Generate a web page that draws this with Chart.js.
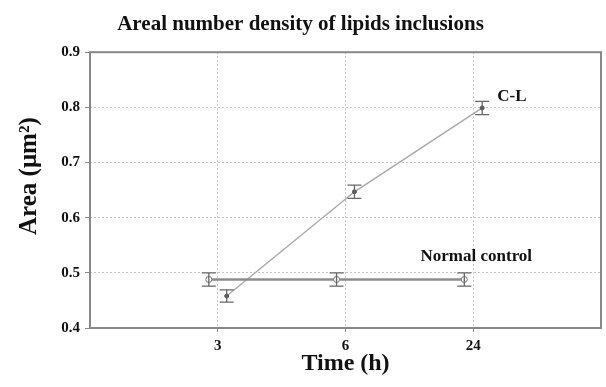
<!DOCTYPE html>
<html>
<head>
<meta charset="utf-8">
<script src="https://cdn.jsdelivr.net/npm/chart.js@4/dist/chart.umd.min.js"></script>
<style>
  body { margin: 0; background: #fff; }
  #wrap { width: 606px; height: 387px; }
</style>
</head>
<body>
<div id="wrap"><canvas id="areaChart" width="606" height="387"></canvas></div>
<script>
// values
var timeLabels = ['3', '6', '24'];
var normalMean = [0.488, 0.488, 0.488];
var normalErr = [0.012, 0.012, 0.012];
var clMean = [0.458, 0.647, 0.799];
var clErr = [0.011, 0.012, 0.012];
var yTicks = [0.4, 0.5, 0.6, 0.7, 0.8, 0.9];

var FONT = '"Liberation Serif", "Times New Roman", serif';
var SHIFT = 0.07; // the two groups sit a little left / right of each time

function points(means, dx) {
    return means.map(function(v, i) { return { x: i + 1 + dx, y: v }; });
}

// error bars, plot frame, in-plot labels and the y title
var extras = {
    id: 'extras',
    afterDatasetsDraw: function(chart) {
        var ctx = chart.ctx;
        var a = chart.chartArea;
        var y = chart.scales.y;
        var errs = [normalErr, clErr];
        var means = [normalMean, clMean];

        ctx.save();
        ctx.strokeStyle = '#666';
        ctx.lineWidth = 1.3;
        for (var d = 0; d < 2; d++) {
            var meta = chart.getDatasetMeta(d);
            meta.data.forEach(function(pt, i) {
                var top = y.getPixelForValue(means[d][i] + errs[d][i]);
                var bot = y.getPixelForValue(means[d][i] - errs[d][i]);
                ctx.beginPath();
                ctx.moveTo(pt.x, top); ctx.lineTo(pt.x, bot);
                ctx.moveTo(pt.x - 7, top); ctx.lineTo(pt.x + 7, top);
                ctx.moveTo(pt.x - 7, bot); ctx.lineTo(pt.x + 7, bot);
                ctx.stroke();
            });
        }

        ctx.strokeStyle = '#888';
        ctx.lineWidth = 2;
        ctx.strokeRect(a.left, a.top, a.right - a.left, a.bottom - a.top);

        ctx.fillStyle = '#111';
        ctx.font = 'bold 17px ' + FONT;
        ctx.textBaseline = 'middle';
        var last = chart.getDatasetMeta(1).data[2];
        ctx.textAlign = 'left';
        ctx.fillText('C-L', last.x + 15, last.y - 11);
        var nLast = chart.getDatasetMeta(0).data[2];
        ctx.textAlign = 'center';
        ctx.fillText('Normal control', nLast.x + 12, nLast.y - 23);

        ctx.translate(30, (a.top + a.bottom) / 2 - 14);
        ctx.rotate(-Math.PI / 2);
        ctx.font = 'bold 25px ' + FONT;
        ctx.fillText('Area (\u03bcm\u00b2)', 0, 0);
        ctx.restore();
    }
};

var ctx = document.getElementById('areaChart').getContext('2d');
var areaChart = new Chart(ctx, {
    type: 'line',
    data: {
        datasets: [
            {
                label: 'Normal control',
                data: points(normalMean, -SHIFT),
                borderColor: '#8c8c8c',
                borderWidth: 2.5,
                pointRadius: 3,
                pointBackgroundColor: '#fff',
                pointBorderColor: '#777',
                pointBorderWidth: 1
            },
            {
                label: 'C-L',
                data: points(clMean, SHIFT),
                borderColor: '#aaa',
                borderWidth: 1.5,
                pointRadius: 2,
                pointBackgroundColor: '#555',
                pointBorderColor: '#555',
                pointBorderWidth: 1
            }
        ]
    },
    options: {
        responsive: false,
        animation: false,
        layout: { padding: { top: 0, left: 0, right: 5, bottom: 0 } },
        plugins: {
            legend: { display: false },
            tooltip: { enabled: false },
            title: {
                display: true,
                text: 'Areal number density of lipids inclusions',
                color: '#111',
                font: { family: FONT, size: 21, weight: 'bold' },
                padding: { top: 12, bottom: 15 }
            }
        },
        scales: {
            x: {
                type: 'linear',
                min: 0,
                max: 4,
                afterBuildTicks: function(scale) {
                    scale.ticks = timeLabels.map(function(t, i) { return { value: i + 1 }; });
                },
                afterFit: function(scale) { scale.height = 59; },
                ticks: {
                    callback: function(v, i) { return timeLabels[i]; },
                    color: '#111',
                    padding: 5,
                    maxRotation: 0,
                    font: { family: FONT, size: 15, weight: 'bold' }
                },
                grid: {
                    color: '#c4c4c4',
                    tickColor: '#888',
                    tickLength: 4,
                    tickBorderDash: []
                },
                border: { display: false, dash: [2, 2] },
                title: {
                    display: true,
                    text: 'Time (h)',
                    color: '#111',
                    font: { family: FONT, size: 24, weight: 'bold' },
                    padding: { top: 0, bottom: 9 }
                }
            },
            y: {
                min: 0.4,
                max: 0.9,
                afterBuildTicks: function(scale) {
                    scale.ticks = yTicks.map(function(v) { return { value: v }; });
                },
                afterFit: function(scale) { scale.width = 90; },
                ticks: {
                    callback: function(v) { return v.toFixed(1); },
                    color: '#111',
                    padding: 5,
                    font: { family: FONT, size: 15, weight: 'bold' }
                },
                grid: {
                    color: '#c4c4c4',
                    tickColor: '#888',
                    tickLength: 5,
                    tickBorderDash: []
                },
                border: { display: false, dash: [2, 2] }
            }
        }
    },
    plugins: [extras]
});
</script>
</body>
</html>
